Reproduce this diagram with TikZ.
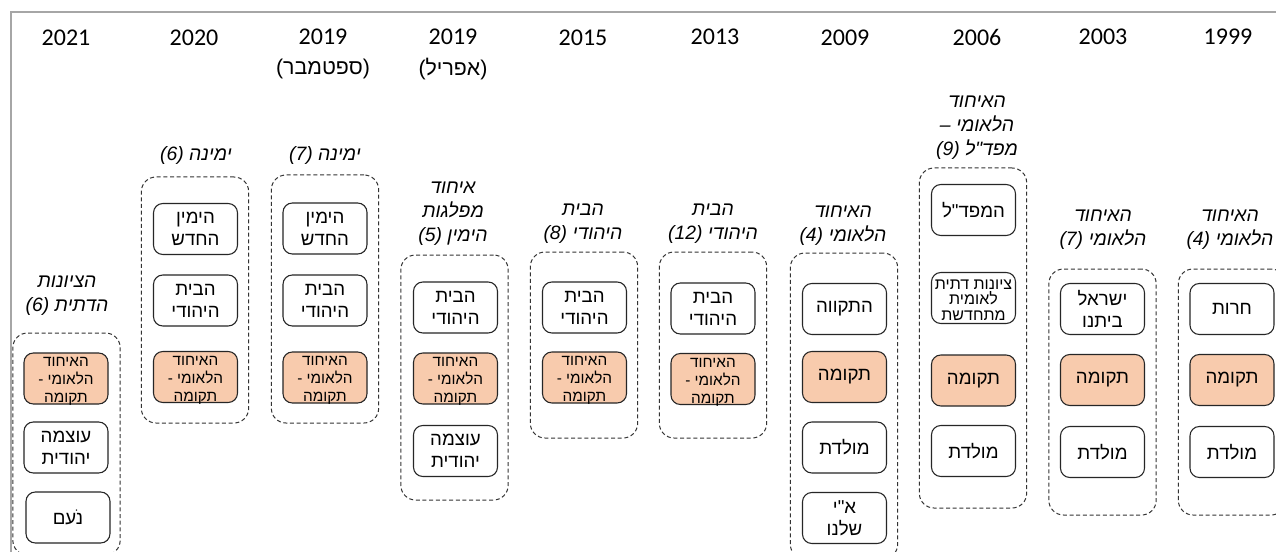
\documentclass[tikz,border=0pt]{standalone}
\usepackage{fontspec}
\setmainfont{Liberation Sans}
\newfontfamily\hebfont[Script=Hebrew]{Liberation Sans}
\newfontfamily\yearfont{Carlito}
\TeXXeTstate=1
\newcommand\myR[1]{\beginR #1\endR}
\newcommand\myL[1]{\beginL #1\endL}
\definecolor{orangefill}{HTML}{F8CBAD}
\definecolor{framegray}{HTML}{A6A6A6}
\begin{document}
\begin{tikzpicture}[x=0.75pt,y=-0.75pt,
  cont/.style={draw=black!80, dash pattern=on 3pt off 2pt, line width=0.75pt,
    rounded corners=11pt, minimum width=80.5pt, inner sep=0pt},
  pbox/.style={draw=black!85, line width=0.8pt, rounded corners=7pt, fill=white,
    minimum width=63pt, minimum height=38.25pt, inner sep=0pt,
    font=\hebfont\fontsize{14}{16.5}\selectfont, align=center},
  hl/.style={pbox, fill=orangefill},
  stext/.style={font=\hebfont\fontsize{11.5}{13.5}\selectfont, align=center, inner sep=0pt},
  xtext/.style={font=\hebfont\fontsize{12}{11.5}\selectfont, align=center, inner sep=0pt},
  ttl/.style={font=\hebfont\itshape\fontsize{14.5}{18}\selectfont, align=center, inner sep=0pt},
  yr/.style={font=\yearfont\fontsize{18}{22}\selectfont, inner sep=0pt},
  yrsub/.style={font=\hebfont\fontsize{16}{20}\selectfont, inner sep=0pt},
  frame/.style={draw=framegray, line width=1.5pt}
]
\useasboundingbox (0,0) rectangle (1276,552);
\clip (0,0) rectangle (1276,552);
\fill[white] (0,0) rectangle (1276,552);
\coordinate (fr1) at (1300,12);
\coordinate (fr2) at (11,12);
\coordinate (fr3) at (11,580);
\draw[frame] (fr1) -- (fr2) -- (fr3);

% ---------- 2021 ----------
\node[yr] (y2021) at (66,38) {2021};
\node[ttl] (t2021) at (67,296) {\myR{הציונות}\\\myR{הדתית \myL{(6)}}};
\node[cont, minimum height=166.5pt] (c2021) at (66.5,444) {};
\node[hl] (b2021a) at (66,378.5) {};
\node[stext] (s2021a) at ([yshift=-2.5pt]b2021a.center) {\myR{האיחוד}\\\myR{הלאומי -}\\\myR{תקומה}};
\node[pbox] (b2021b) at (66,447.5) {\myR{עוצמה}\\\myR{יהודית}};
\node[pbox] (b2021c) at (68,517.5) {\myR{נֹעם}};

% ---------- 2020 ----------
\node[yr] (y2020) at (194,38) {2020};
\node[ttl] (t2020) at (196,155) {\myR{ימינה \myL{(6)}}};
\node[cont, minimum height=184.5pt] (c2020) at (195,300) {};
\node[pbox] (b2020a) at (195.5,229) {\myR{הימין}\\\myR{החדש}};
\node[pbox] (b2020b) at (195.5,300.5) {\myR{הבית}\\\myR{היהודי}};
\node[hl] (b2020c) at (195.5,377) {};
\node[stext] (s2020c) at ([yshift=-2.5pt]b2020c.center) {\myR{האיחוד}\\\myR{הלאומי -}\\\myR{תקומה}};

% ---------- 2019 Sep ----------
\node[yr] (y2019s) at (323,37) {2019};
\node[yrsub] (y2019sb) at (323,69) {\myR{(ספטמבר)}};
\node[ttl] (t2019s) at (325,155) {\myR{ימינה \myL{(7)}}};
\node[cont, minimum height=186pt] (c2019s) at (325,299) {};
\node[pbox] (b2019sa) at (325,228.5) {\myR{הימין}\\\myR{החדש}};
\node[pbox] (b2019sb) at (325,300.5) {\myR{הבית}\\\myR{היהודי}};
\node[hl] (b2019sc) at (325,377.5) {};
\node[stext] (s2019sc) at ([yshift=-2.5pt]b2019sc.center) {\myR{האיחוד}\\\myR{הלאומי -}\\\myR{תקומה}};

% ---------- 2019 Apr ----------
\node[yr] (y2019a) at (453,37) {2019};
\node[yrsub] (y2019ab) at (453,69) {\myR{(אפריל)}};
\node[ttl] (t2019a) at (453,214) {\myR{איחוד}\\\myR{מפלגות}\\\myR{הימין \myL{(5)}}};
\node[cont, minimum height=183.75pt] (c2019a) at (454.5,377.5) {};
\node[pbox] (b2019aa) at (455.5,307.5) {\myR{הבית}\\\myR{היהודי}};
\node[hl] (b2019ab) at (455.5,378.5) {};
\node[stext] (s2019ab) at ([yshift=-2.5pt]b2019ab.center) {\myR{האיחוד}\\\myR{הלאומי -}\\\myR{תקומה}};
\node[pbox] (b2019ac) at (455.5,451) {\myR{עוצמה}\\\myR{יהודית}};

% ---------- 2015 ----------
\node[yr] (y2015) at (583,38) {2015};
\node[ttl] (t2015) at (583,223.5) {\myR{הבית}\\\myR{היהודי \myL{(8)}}};
\node[cont, minimum height=139.5pt] (c2015) at (584,345) {};
\node[pbox] (b2015a) at (584.5,307.5) {\myR{הבית}\\\myR{היהודי}};
\node[hl] (b2015b) at (584.5,377.5) {};
\node[stext] (s2015b) at ([yshift=-2.5pt]b2015b.center) {\myR{האיחוד}\\\myR{הלאומי -}\\\myR{תקומה}};

% ---------- 2013 ----------
\node[yr] (y2013) at (715,37) {2013};
\node[ttl] (t2013) at (713,223.5) {\myR{הבית}\\\myR{היהודי \myL{(12)}}};
\node[cont, minimum height=139.5pt] (c2013) at (713,345) {};
\node[pbox] (b2013a) at (713,308.5) {\myR{הבית}\\\myR{היהודי}};
\node[hl] (b2013b) at (713,379) {};
\node[stext] (s2013b) at ([yshift=-2.5pt]b2013b.center) {\myR{האיחוד}\\\myR{הלאומי -}\\\myR{תקומה}};

% ---------- 2009 ----------
\node[yr] (y2009) at (845,38) {2009};
\node[ttl] (t2009) at (843,225.5) {\myR{האיחוד}\\\myR{הלאומי \myL{(4)}}};
\node[cont, minimum height=229.5pt] (c2009) at (844,406) {};
\node[pbox] (b2009a) at (844.5,309) {\myR{התקווה}};
\node[hl] (b2009b) at (844.5,377) {\myR{תקומה}};
\node[pbox] (b2009c) at (844.5,447.5) {\myR{מולדת}};
\node[pbox] (b2009d) at (844.5,518) {\myR{א"י}\\\myR{שלנו}};

% ---------- 2006 ----------
\node[yr] (y2006) at (977,37) {2006};
\node[ttl] (t2006) at (977,128) {\myR{האיחוד}\\\myR{הלאומי –}\\\myR{מפד"ל \myL{(9)}}};
\node[cont, minimum height=255pt] (c2006) at (973,338) {};
\node[pbox] (b2006a) at (973.5,210) {\myR{המפד"ל}};
\node[pbox] (b2006b) at (973.5,298) {};
\node[xtext] (s2006b) at ([yshift=-1.5pt]b2006b.center) {\myR{ציונות דתית}\\\myR{לאומית}\\\myR{מתחדשת}};
\node[hl] (b2006c) at (973.5,380.5) {\myR{תקומה}};
\node[pbox] (b2006d) at (973.5,451) {\myR{מולדת}};

% ---------- 2003 ----------
\node[yr] (y2003) at (1103,37) {2003};
\node[ttl] (t2003) at (1103,230) {\myR{האיחוד}\\\myR{הלאומי \myL{(7)}}};
\node[cont, minimum height=184.5pt] (c2003) at (1102.5,392) {};
\node[pbox] (b2003a) at (1102.5,309) {\myR{ישראל}\\\myR{ביתנו}};
\node[hl] (b2003b) at (1102.5,380) {\myR{תקומה}};
\node[pbox] (b2003c) at (1102.5,452) {\myR{מולדת}};

% ---------- 1999 ----------
\node[yr] (y1999) at (1228,37) {1999};
\node[ttl] (t1999) at (1230,230) {\myR{האיחוד}\\\myR{הלאומי \myL{(4)}}};
\node[cont, minimum height=184.5pt] (c1999) at (1232,392) {};
\node[pbox] (b1999a) at (1232,309) {\myR{חרות}};
\node[hl] (b1999b) at (1232,380) {\myR{תקומה}};
\node[pbox] (b1999c) at (1232,452) {\myR{מולדת}};
\end{tikzpicture}
\end{document}
